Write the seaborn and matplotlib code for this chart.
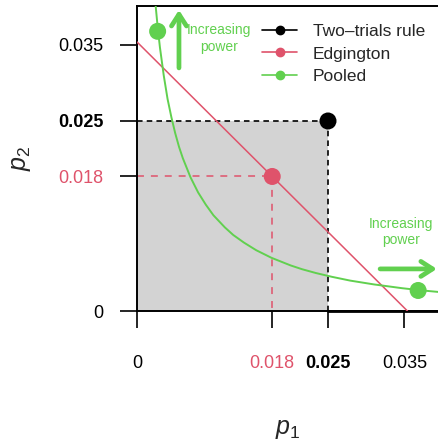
import matplotlib
matplotlib.use("Agg")
import matplotlib.pyplot as plt
from matplotlib.lines import Line2D
import pandas as pd
import seaborn as sns

# Significance thresholds on the (p1, p2) plane
two_trials_alpha = 0.025
edgington_point = 0.0177       # p1 = p2 on the Edgington boundary
edgington_intercept = 0.0354   # p1 + p2 = const

# Pooled (Stouffer) boundary
pooled_p1 = [0.0024, 0.0027, 0.0030, 0.0035, 0.0040, 0.0045, 0.0050, 0.0055,
             0.0060, 0.0070, 0.0080, 0.0090, 0.0100, 0.0115, 0.0126, 0.0140,
             0.0156, 0.0176, 0.0201, 0.0216, 0.0234, 0.0255, 0.0279, 0.0310,
             0.0347, 0.0374, 0.0406]
pooled_p2 = [0.0406, 0.0374, 0.0347, 0.0310, 0.0279, 0.0255, 0.0234, 0.0216,
             0.0201, 0.0176, 0.0156, 0.0140, 0.0126, 0.0110, 0.0100, 0.0090,
             0.0080, 0.0070, 0.0060, 0.0055, 0.0050, 0.0045, 0.0040, 0.0035,
             0.0030, 0.0027, 0.0024]
pooled_dot_p1 = [0.0027, 0.0368]
pooled_dot_p2 = [0.0368, 0.0027]

tick_values = [0, edgington_point, two_trials_alpha, 0.035]
tick_labels = ["0", "0.018", "0.025", "0.035"]
legend_labels = ["Two\u2013trials rule", "Edgington", "Pooled"]
arrow_text = "Increasing\npower"

BLACK = "#000000"
RED = "#DF536B"
GREEN = "#61D04F"
GRAY = "#D3D3D3"

sns.set_theme(style="white")
plt.rcParams["font.family"] = ["Liberation Sans", "DejaVu Sans"]
plt.rcParams["mathtext.fontset"] = "custom"
plt.rcParams["mathtext.rm"] = "Liberation Sans"
plt.rcParams["mathtext.it"] = "Liberation Sans:italic"
plt.rcParams["lines.scale_dashes"] = False

fig = plt.figure(figsize=(4.39, 4.41), dpi=100)
ax = fig.add_axes([137 / 439, 130 / 441, 302 / 439, 305 / 441])
ax.set_xlim(0, 0.03953)
ax.set_ylim(0, 0.04013)

# Two-trials rule region
ax.fill_between([0, two_trials_alpha], 0, two_trials_alpha, color=GRAY, lw=0, zorder=0)
ax.plot([0, two_trials_alpha], [two_trials_alpha, two_trials_alpha], color=BLACK,
        lw=1.2, ls=(0, (4, 3)), zorder=2)
ax.plot([two_trials_alpha, two_trials_alpha], [two_trials_alpha, 0], color=BLACK,
        lw=1.2, ls=(0, (4, 3)), zorder=2)
ax.plot([two_trials_alpha, 0.03953], [0, 0], color=BLACK, lw=2, zorder=3, clip_on=False)

# Edgington boundary and its equal-p point
edg = pd.DataFrame({"p1": [0, edgington_intercept], "p2": [edgington_intercept, 0]})
sns.lineplot(data=edg, x="p1", y="p2", color=RED, lw=1.1, sort=False, ax=ax, zorder=3)
ax.plot([0, edgington_point], [edgington_point, edgington_point], color=RED,
        lw=1.1, ls=(0, (5, 5)), zorder=2)
ax.plot([edgington_point, edgington_point], [edgington_point, 0], color=RED,
        lw=1.1, ls=(0, (5, 5)), zorder=2)

# Pooled boundary
pooled = pd.DataFrame({"p1": pooled_p1, "p2": pooled_p2})
sns.lineplot(data=pooled, x="p1", y="p2", color=GREEN, lw=1.4, sort=False, ax=ax, zorder=3)

# Points
pts = pd.DataFrame({
    "p1": [two_trials_alpha, edgington_point] + pooled_dot_p1,
    "p2": [two_trials_alpha, edgington_point] + pooled_dot_p2,
    "rule": ["two", "edg", "pool", "pool"],
})
sns.scatterplot(data=pts, x="p1", y="p2", hue="rule",
                palette={"two": BLACK, "edg": RED, "pool": GREEN},
                s=150, edgecolor="none", legend=False, ax=ax, zorder=5, clip_on=False)

# Power arrows
arrow_style = dict(arrowstyle="->,head_length=0.7,head_width=0.45", lw=3.4,
                   color=GREEN, shrinkA=0, shrinkB=0)
ax.annotate("", xy=(0.139, 0.987), xytext=(0.139, 0.797), xycoords="axes fraction",
            arrowprops=arrow_style, annotation_clip=False)
ax.text(0.272, 0.893, arrow_text, transform=ax.transAxes, color=GREEN,
        fontsize=10, ha="center", va="center", linespacing=1.25)
ax.annotate("", xy=(0.993, 0.138), xytext=(0.805, 0.138), xycoords="axes fraction",
            arrowprops=arrow_style, annotation_clip=False)
ax.text(0.874, 0.259, arrow_text, transform=ax.transAxes, color=GREEN,
        fontsize=10, ha="center", va="center", linespacing=1.25)

# Axes styling
for side in ["left", "top", "bottom"]:
    ax.spines[side].set_visible(True)
    ax.spines[side].set_color(BLACK)
    ax.spines[side].set_linewidth(1.4)
ax.spines["right"].set_visible(False)

ax.set_xticks(tick_values)
ax.set_xticklabels(tick_labels)
ax.set_yticks(tick_values)
ax.set_yticklabels(tick_labels)
ax.tick_params(axis="both", which="major", direction="out", length=12, width=1.2,
               color=BLACK, labelsize=13, labelcolor=BLACK, bottom=True, left=True)
ax.tick_params(axis="x", pad=20)
ax.tick_params(axis="y", pad=12)
for axis in (ax.xaxis, ax.yaxis):
    ticks = axis.get_major_ticks()
    ticks[1].tick1line.set_color(RED)
    ticks[1].label1.set_color(RED)
    ticks[2].label1.set_fontweight("bold")

ax.set_xlabel(r"$p_1$", fontsize=18, labelpad=32)
ax.set_ylabel(r"$p_2$", fontsize=18, labelpad=18)

handles = [Line2D([], [], color=c, lw=1.2, marker="o", markersize=6)
           for c in (BLACK, RED, GREEN)]
ax.legend(handles, legend_labels, loc="upper left", bbox_to_anchor=(0.415, 0.94),
          frameon=False, fontsize=12.5, handlelength=2.0, handletextpad=0.9,
          labelspacing=0.4, borderpad=0, borderaxespad=0)

fig.savefig("out.png", dpi=100)
